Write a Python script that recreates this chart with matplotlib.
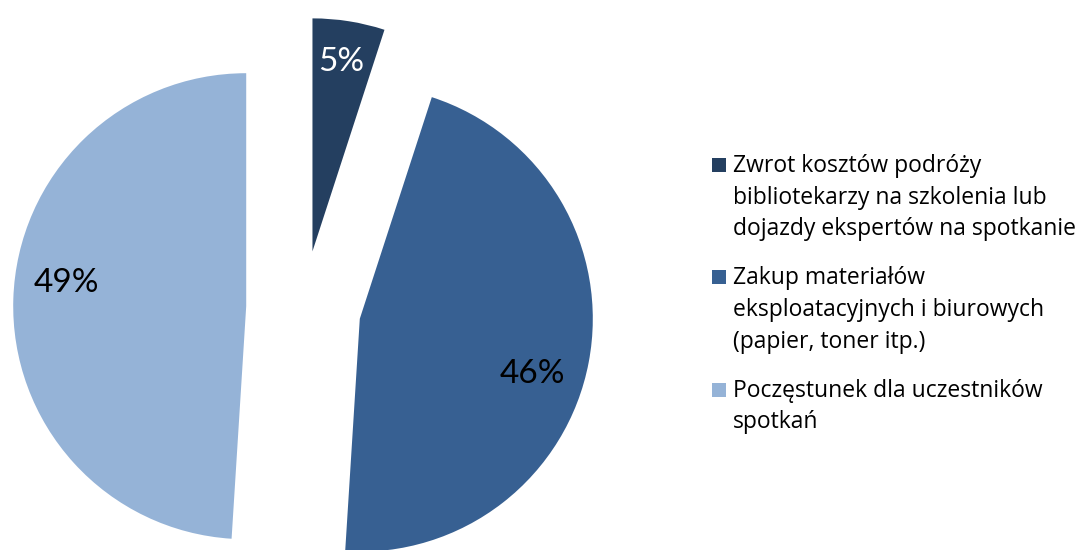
import matplotlib.pyplot as plt
import numpy as np
from matplotlib.patches import Rectangle

# =========================
# Dane
# =========================
categories = [
    "Zwrot kosztów podróży\nbibliotekarzy na szkolenia lub\ndojazdy ekspertów na spotkanie",
    "Zakup materiałów\neksploatacyjnych i biurowych\n(papier, toner itp.)",
    "Poczęstunek dla uczestników\nspotkań",
]
shares = [5, 46, 49]

colors = ["#243F60", "#376092", "#95B3D7"]
label_colors = ["white", "black", "black"]
label_shift = [0.5, -7.0, -5.5]   # przesunięcie etykiet względem środka kąta wycinka (stopnie)

PCT_FONT = ["Lato", "DejaVu Sans"]
LEG_FONT = ["Open Sans", "DejaVu Sans"]

# =========================
# Geometria (piksele)
# =========================
W, H = 1084, 550
CX, CY, R = 303.5, 308, 233     # środek koła i promień
EXPLODE = 0.246

fig = plt.figure(figsize=(W / 100, H / 100), dpi=100)
ax = fig.add_axes([0, 0, 1, 1])

wedges, _ = ax.pie(
    shares,
    colors=colors,
    startangle=90,
    counterclock=False,
    explode=[EXPLODE] * len(shares),
    wedgeprops=dict(linewidth=0),
)

# 1 jednostka danych = R pikseli
ax.set_xlim(-CX / R, (W - CX) / R)
ax.set_ylim(-(H - CY) / R, CY / R)
ax.set_aspect("equal")
ax.axis("off")

# Etykiety procentowe wewnątrz wycinków
for w, v, c, sh in zip(wedges, shares, label_colors, label_shift):
    ang = np.deg2rad((w.theta1 + w.theta2) / 2 + sh)
    cx, cy = w.center
    d = 0.78 if v > 10 else 0.82
    ax.text(cx + d * np.cos(ang), cy + d * np.sin(ang), f"{v}%",
            ha="center", va="center", fontsize=24, color=c, family=PCT_FONT)

# =========================
# Legenda (rysowana ręcznie w pikselach)
# =========================
def px(x, y):
    return x / W, 1 - y / H

LINE_H = 31.5
ENTRY_GAP = 18
baseline = 172
for lab, col in zip(categories, colors):
    x0, y0 = px(712, baseline)
    fig.patches.append(Rectangle((x0, y0), 14 / W, 14 / H, transform=fig.transFigure,
                                 facecolor=col, edgecolor="none"))
    lines = lab.split("\n")
    for i, line in enumerate(lines):
        tx, ty = px(733, baseline + i * LINE_H)
        fig.text(tx, ty, line, ha="left", va="baseline", fontsize=16.5,
                 color="black", family=LEG_FONT)
    baseline += len(lines) * LINE_H + ENTRY_GAP

fig.savefig("out.png", dpi=100, facecolor="white")
